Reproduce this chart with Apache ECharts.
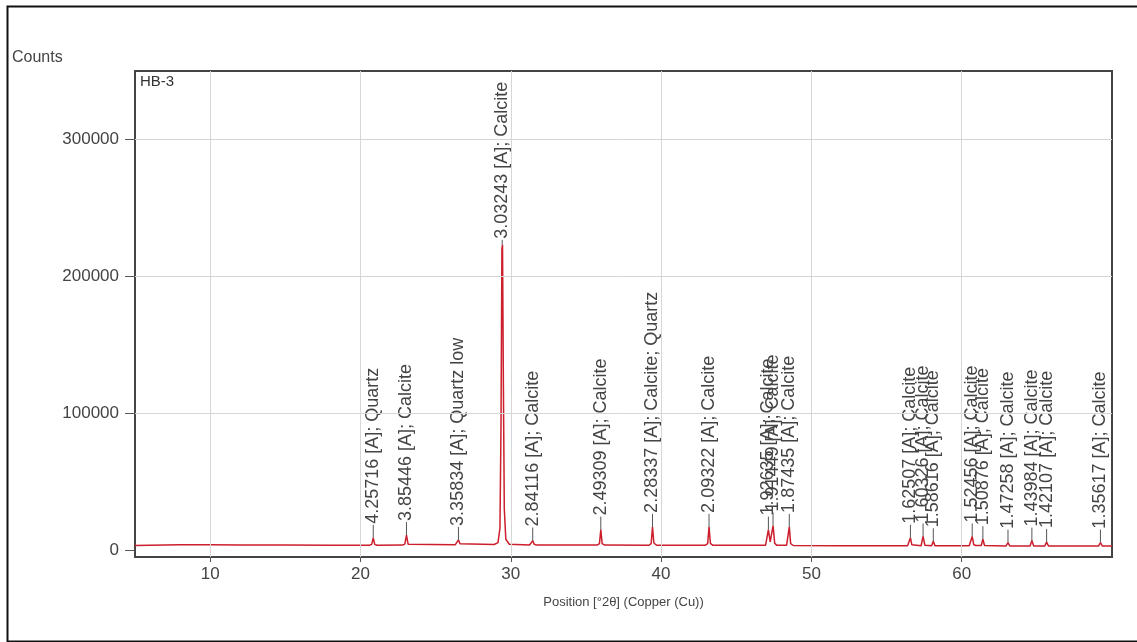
<!DOCTYPE html>
<html><head><meta charset="utf-8">
<script src="https://cdn.jsdelivr.net/npm/echarts@6/dist/echarts.min.js"></script>
<style>html,body{margin:0;padding:0;background:#fff}#c{width:1137px;height:642px}</style>
</head><body><div id="c"></div>
<script>
// ---- data ----
const xTicks = [10, 20, 30, 40, 50, 60];
const yTicks = [0, 100000, 200000, 300000];

const peakPos = [20.85, 23.06, 26.52, 29.43, 31.46, 35.99, 39.43, 43.19, 47.14, 47.45, 48.53,
  56.59, 57.43, 58.11, 60.70, 61.41, 63.08, 64.67, 65.65, 69.23];
const peakD = ['4.25716', '3.85446', '3.35834', '3.03243', '2.84116', '2.49309', '2.28337', '2.09322',
  '1.92635', '1.91449', '1.87435', '1.62507', '1.60326', '1.58616', '1.52456', '1.50876',
  '1.47258', '1.43984', '1.42107', '1.35617'];
const peakPhase = ['Quartz', 'Calcite', 'Quartz low', 'Calcite', 'Calcite', 'Calcite', 'Calcite; Quartz',
  'Calcite', 'Calcite', 'Calcite', 'Calcite', 'Calcite', 'Calcite', 'Calcite', 'Calcite', 'Calcite',
  'Calcite', 'Calcite', 'Calcite', 'Calcite'];
const peakHeight = [9000, 11000, 7500, 223000, 7000, 15000, 17000, 17000, 15000, 18000, 17000,
  9000, 10000, 6500, 10000, 8000, 5500, 7000, 6000, 5500];

const profile = [
  [5.0, 3400], [6, 3600], [8, 3900], [10, 3900], [12, 3800], [15, 3700], [18, 3600], [20.6, 3600],
  [20.75, 4200], [20.85, 9000], [20.95, 4200], [21.1, 3600],
  [22.8, 3700], [22.95, 4400], [23.06, 11000], [23.17, 4400], [23.3, 3700],
  [26.3, 3900], [26.42, 4600], [26.52, 7500], [26.62, 4600], [26.75, 3900],
  [28.9, 4100], [29.15, 5500], [29.28, 16000], [29.35, 90000], [29.41, 220000], [29.45, 223000],
  [29.51, 120000], [29.57, 30000], [29.67, 8000], [29.9, 4300],
  [31.25, 3800], [31.38, 4400], [31.46, 7000], [31.55, 4400], [31.7, 3800],
  [35.75, 3700], [35.9, 4800], [35.99, 15000], [36.08, 4800], [36.25, 3700],
  [39.2, 3600], [39.34, 4800], [39.43, 17000], [39.52, 5200], [39.7, 3600],
  [42.95, 3600], [43.1, 4800], [43.19, 17000], [43.28, 5000], [43.45, 3500],
  [46.95, 3500], [47.06, 4800], [47.14, 15000], [47.26, 6000], [47.35, 6500], [47.45, 18000],
  [47.56, 5000], [47.7, 3500],
  [48.35, 3500], [48.45, 4800], [48.53, 17000], [48.62, 4800], [48.8, 3400],
  [52, 3300], [56.4, 3200], [56.5, 4000], [56.59, 9000], [56.68, 4000], [56.8, 3200],
  [57.3, 3200], [57.43, 10000], [57.55, 3600],
  [58.0, 3200], [58.11, 6500], [58.22, 3300],
  [60.5, 3200], [60.6, 4000], [60.70, 10000], [60.8, 4000], [60.95, 3400],
  [61.3, 3400], [61.41, 8000], [61.52, 3400],
  [62.95, 3100], [63.08, 5500], [63.2, 3100],
  [64.55, 3100], [64.67, 7000], [64.79, 3100],
  [65.53, 3100], [65.65, 6000], [65.77, 3100],
  [69.1, 3000], [69.23, 5500], [69.36, 3000], [70, 3000]
];

// ---- chart ----
const labels = peakD.map((d, i) => d + ' [A]; ' + peakPhase[i]);
const FONT = '"Liberation Sans", Arial, sans-serif';
const chart = echarts.init(document.getElementById('c'), null, {renderer: 'canvas'});

chart.setOption({
  animation: false,
  backgroundColor: '#fff',
  grid: {left: 135, right: 25, top: 71, bottom: 85, show: true, borderColor: '#444', borderWidth: 2, backgroundColor: 'transparent'},
  xAxis: {
    type: 'value', min: 5, max: 70,
    splitLine: {show: false},
    axisLine: {show: true, onZero: false, lineStyle: {color: '#444', width: 2}},
    axisTick: {show: true, customValues: xTicks, length: 5, lineStyle: {color: '#555'}},
    axisLabel: {customValues: xTicks, fontSize: 17, fontFamily: FONT, color: '#444', margin: 9,
      formatter: v => String(v)},
    name: 'Position [°2θ] (Copper (Cu))', nameLocation: 'middle', nameGap: 39,
    nameTextStyle: {fontSize: 13, fontFamily: FONT, color: '#444'}
  },
  yAxis: {
    type: 'value', min: -5000, max: 350000,
    splitLine: {show: false},
    axisLine: {show: true, onZero: false, lineStyle: {color: '#444', width: 2}},
    axisTick: {show: true, customValues: yTicks, length: 10, lineStyle: {color: '#555'}},
    axisLabel: {customValues: yTicks, fontSize: 17, fontFamily: FONT, color: '#444', margin: 16,
      formatter: v => String(v)}
  },
  graphic: [
    {type: 'rect', left: 5, top: 4, shape: {width: 1145, height: 635}, style: {fill: 'none', stroke: '#111', lineWidth: 2}, z: -1, silent: true},
    {type: 'text', left: 12, top: 50, style: {text: 'Counts', font: '16px ' + FONT, fill: '#444'}},
    {type: 'text', left: 140, top: 74, style: {text: 'HB-3', font: '15px ' + FONT, fill: '#333'}}
  ],
  series: [
    {
      type: 'line', data: [], z: 1, silent: true,
      markLine: {
        silent: true, symbol: ['none', 'none'], label: {show: false},
        lineStyle: {color: '#d6d6d6', type: 'solid', width: 1},
        emphasis: {disabled: true},
        data: xTicks.map(v => ({xAxis: v})).concat(yTicks.filter(v => v > 0).map(v => ({yAxis: v})))
      }
    },
    {
      type: 'line', data: profile, z: 3, showSymbol: false, silent: true,
      lineStyle: {color: '#cc1e2c', width: 1.5}
    },
    {
      type: 'custom', z: 4, silent: true,
      data: peakPos.map((x, i) => [x, peakHeight[i]]),
      renderItem: function (params, api) {
        const h = api.value(1);
        const p = api.coord([api.value(0), h]);
        const len = h > 100000 ? 5 : 13;
        return {
          type: 'group',
          children: [
            {type: 'line', shape: {x1: p[0], y1: p[1], x2: p[0], y2: p[1] - len}, style: {stroke: '#555', lineWidth: 1}},
            {type: 'text', x: p[0], y: p[1] - len - 1, rotation: Math.PI / 2,
              style: {text: labels[params.dataIndex], fill: '#444', font: '18px ' + FONT, align: 'left', verticalAlign: 'middle'}}
          ]
        };
      }
    }
  ]
});
</script></body></html>
